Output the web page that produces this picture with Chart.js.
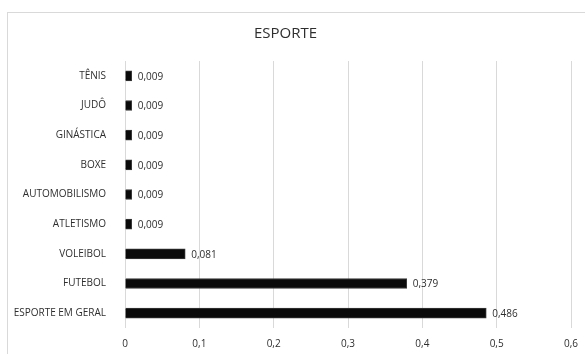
<!DOCTYPE html>
<html>
<head>
<meta charset="utf-8">
<script src="https://cdn.jsdelivr.net/npm/chart.js"></script>
<style>
  html, body { margin: 0; padding: 0; background: #fff; overflow: hidden; }
  #moldura {
    position: absolute; left: 7px; top: 12px; width: 600px; height: 360px;
    border: 1px solid #d9d9d9; box-sizing: border-box;
  }
  #caixa { position: absolute; left: 0; top: 0; width: 600px; height: 354px; }
</style>
</head>
<body>
<div id="moldura"></div>
<div id="caixa"><canvas id="grafico" width="600" height="354"></canvas></div>
<script>
const categorias = ["TÊNIS", "JUDÔ", "GINÁSTICA", "BOXE", "AUTOMOBILISMO", "ATLETISMO", "VOLEIBOL", "FUTEBOL", "ESPORTE EM GERAL"];
const valores = [0.009, 0.009, 0.009, 0.009, 0.009, 0.009, 0.081, 0.379, 0.486];
const titulo = "ESPORTE";

const corTexto = "#2e2e2e";
const fonte = "'Open Sans', sans-serif";

function formatar(v) {
    if (v === 0) return "0";
    return String(v).replace(".", ",");
}

// escreve o valor ao lado de cada barra
const rotulos = {
    id: "rotulos",
    afterDatasetsDraw(chart) {
        const c = chart.ctx;
        const meta = chart.getDatasetMeta(0);
        c.save();
        c.font = "10px " + fonte;
        c.fillStyle = corTexto;
        c.textAlign = "left";
        c.textBaseline = "middle";
        meta.data.forEach((barra, i) => {
            c.fillText(formatar(valores[i]), barra.x + 6, barra.y + 1);
        });
        c.restore();
    }
};

const ctx = document.getElementById("grafico").getContext("2d");
new Chart(ctx, {
    type: "bar",
    data: {
        labels: categorias,
        datasets: [{
            data: valores,
            backgroundColor: "#0a0a0a",
            borderColor: "#3a3a3a",
            borderWidth: 1,
            barThickness: 10
        }]
    },
    options: {
        indexAxis: "y",
        responsive: false,
        animation: false,
        layout: { padding: { left: 0, right: 29, top: 0, bottom: 0 } },
        plugins: {
            legend: { display: false },
            tooltip: { enabled: false },
            title: {
                display: true,
                text: titulo,
                color: corTexto,
                font: { family: fonte, size: 15, weight: "normal", lineHeight: 1.2 },
                padding: { top: 25, bottom: 18 }
            }
        },
        scales: {
            x: {
                min: 0,
                max: 0.6,
                ticks: {
                    stepSize: 0.1,
                    color: corTexto,
                    font: { family: fonte, size: 10 },
                    padding: 10,
                    callback: v => v === 0 ? "0" : v.toFixed(1).replace(".", ",")
                },
                grid: { color: "#d9d9d9", drawTicks: false },
                border: { display: false },
                afterFit: s => { s.height = 26; }
            },
            y: {
                ticks: {
                    color: corTexto,
                    font: { family: fonte, size: 10 },
                    padding: 11
                },
                grid: { display: false },
                border: { display: false },
                afterFit: s => { s.width = 125; }
            }
        }
    },
    plugins: [rotulos]
});
</script>
</body>
</html>
